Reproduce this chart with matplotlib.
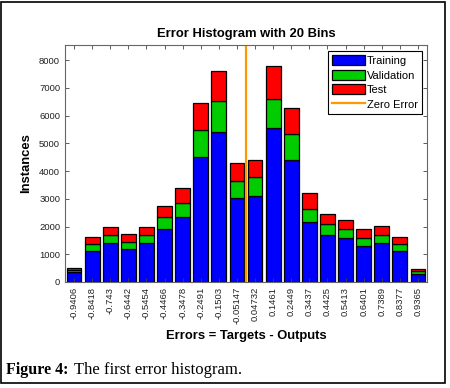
import matplotlib.pyplot as plt
from matplotlib.patches import Rectangle

# bin centres (as printed on the axis) and stacked counts
bin_labels = ["-0.9406", "-0.8418", "-0.743", "-0.6442", "-0.5454", "-0.4466",
              "-0.3478", "-0.2491", "-0.1503", "-0.05147", "0.04732", "0.1461",
              "0.2449", "0.3437", "0.4425", "0.5413", "0.6401", "0.7389",
              "0.8377", "0.9365"]
bin_centers = [float(s) for s in bin_labels]
training = [360, 1120, 1400, 1190, 1400, 1900, 2350, 4510, 5420, 3020,
            3100, 5540, 4400, 2170, 1700, 1580, 1290, 1400, 1120, 280]
validation = [70, 240, 290, 260, 290, 440, 500, 980, 1120, 640,
              690, 1080, 950, 480, 385, 325, 290, 290, 240, 120]
test = [60, 270, 300, 285, 300, 410, 550, 980, 1090, 625,
        605, 1160, 945, 555, 375, 325, 325, 315, 265, 70]

plt.rcParams['font.family'] = ['Liberation Sans', 'DejaVu Sans']

fig = plt.figure(figsize=(4.5, 3.88), dpi=100)
ax = fig.add_axes([0.1444, 0.2732, 0.8046, 0.6108])

step = (bin_centers[-1] - bin_centers[0]) / (len(bin_centers) - 1)
w = step * 0.82
bottom2 = [a + b for a, b in zip(training, validation)]
b1 = ax.bar(bin_centers, training, width=w, color='#0000FF', edgecolor='black', linewidth=0.9)
b2 = ax.bar(bin_centers, validation, width=w, bottom=training, color='#00CC00', edgecolor='black', linewidth=0.9)
b3 = ax.bar(bin_centers, test, width=w, bottom=bottom2, color='#FF0000', edgecolor='black', linewidth=0.9)
zl = ax.axvline(0, color='#FF9900', linewidth=1.6)

ax.set_xlim(bin_centers[0] - step / 2, bin_centers[-1] + step / 2)
ax.set_ylim(0, 8550)
ax.set_xticks(bin_centers)
ax.set_xticklabels(bin_labels, rotation=90, fontsize=6.8, color='#222222')
ax.set_yticks(range(0, 8001, 1000))
ax.tick_params(axis='y', labelsize=6.8, labelcolor='#222222')
ax.tick_params(direction='in', top=True, right=True, length=3, width=0.6, color='#444444')
for s in ax.spines.values():
    s.set_color('#666666')
    s.set_linewidth(0.8)

ax.set_title('Error Histogram with 20 Bins', fontsize=9.4, fontweight='bold', pad=6)
ax.set_ylabel('Instances', fontsize=9.4, fontweight='bold', labelpad=5)
ax.set_xlabel('Errors = Targets - Outputs', fontsize=9.4, fontweight='bold', labelpad=4)

leg = ax.legend([b1, b2, b3, zl], ['Training', 'Validation', 'Test', 'Zero Error'],
                loc='upper right', bbox_to_anchor=(0.986, 0.974), fontsize=8,
                fancybox=False, framealpha=1, edgecolor='black',
                handlelength=3.0, handleheight=1.0, borderpad=0.35,
                labelspacing=0.35, handletextpad=0.2, borderaxespad=0)
leg.get_frame().set_linewidth(0.8)

t1 = fig.text(0.014, 0.036, 'Figure 4:', fontsize=11.5, fontweight='bold', family='Liberation Serif')
fig.canvas.draw()
bb = t1.get_window_extent().transformed(fig.transFigure.inverted())
fig.text(bb.x1 + 0.012, 0.036, 'The first error histogram.', fontsize=12, family='Liberation Serif')

fig.patches.append(Rectangle((0.003, 0.012), 0.985, 0.984, transform=fig.transFigure,
                             fill=False, edgecolor='black', linewidth=1.2))

plt.savefig('out.png', dpi=100)
